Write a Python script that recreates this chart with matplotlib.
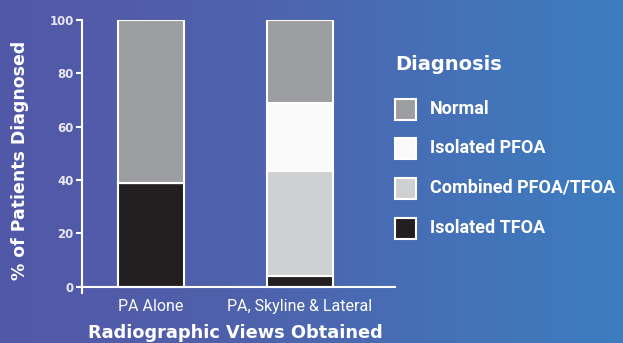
import numpy as np
import matplotlib.pyplot as plt
from matplotlib.colors import LinearSegmentedColormap
from matplotlib.patches import Rectangle

categories = ['PA Alone', 'PA, Skyline & Lateral']
diagnoses = ['Isolated TFOA', 'Combined PFOA/TFOA', 'Isolated PFOA', 'Normal']
values = {
    'Isolated TFOA': [39, 4],
    'Combined PFOA/TFOA': [0, 39.5],
    'Isolated PFOA': [0, 25.5],
    'Normal': [61, 31],
}
colors = {
    'Isolated TFOA': '#231f20',
    'Combined PFOA/TFOA': '#cfd0d2',
    'Isolated PFOA': '#fafafa',
    'Normal': '#9d9ea2',
}
legend_order = ['Normal', 'Isolated PFOA', 'Combined PFOA/TFOA', 'Isolated TFOA']

narrow = ['Roboto', 'DejaVu Sans']
wide = ['DejaVu Sans']

fig = plt.figure(figsize=(6.23, 3.43), dpi=100)

# background gradient
bg = fig.add_axes([0, 0, 1, 1])
grad = np.linspace(0, 1, 256).reshape(1, -1)
cmap = LinearSegmentedColormap.from_list('bg', [(0, '#5358a8'), (0.35, '#5060ab'), (1, '#3d7dc0')])
bg.imshow(grad, aspect='auto', cmap=cmap, extent=[0, 1, 0, 1])
bg.axis('off')

ax = fig.add_axes([82 / 623, 1 - 293 / 343, (395 - 82) / 623, (293 - 20) / 343])
ax.patch.set_alpha(0)

x = np.arange(len(categories))
bottom = np.zeros(len(categories))
for d in diagnoses:
    v = np.array(values[d])
    ax.bar(x, v, 0.44, bottom=bottom, color=colors[d], edgecolor='white', linewidth=1.5)
    bottom += v

ax.set_xlim(-0.463, 1.638)
ax.set_ylim(-2.3, 100)
ax.spines['top'].set_visible(False)
ax.spines['right'].set_visible(False)
ax.spines['bottom'].set_position(('data', 0))
for s in ['left', 'bottom']:
    ax.spines[s].set_color('white')
    ax.spines[s].set_linewidth(1.5)

ax.set_yticks([0, 20, 40, 60, 80, 100])
ax.tick_params(axis='y', colors='white', length=4, width=1.5, pad=2)
for lab in ax.get_yticklabels():
    lab.set_color('#e8e8f2')
    lab.set_fontweight('bold')
    lab.set_fontsize(8.5)
    lab.set_family(wide)

ax.set_xticks(x)
ax.set_xticklabels(categories)
ax.tick_params(axis='x', length=0, pad=9)
for lab in ax.get_xticklabels():
    lab.set_color('white')
    lab.set_fontsize(11.5)
    lab.set_family(narrow)

fig.text(88 / 623, 1 - 333 / 343, 'Radiographic Views Obtained', ha='left', va='center',
         color='white', fontsize=12.8, fontweight='bold', family=wide)
fig.text(20 / 623, 1 - 160 / 343, '% of Patients Diagnosed', ha='center', va='center', rotation=90,
         color='white', fontsize=12.5, fontweight='bold', family=wide)

# legend
fig.text(395 / 623, 1 - 64 / 343, 'Diagnosis', ha='left', va='center',
         color='white', fontsize=14, fontweight='bold', family=wide)
rows = [109, 148, 188, 228]
for d, yy in zip(legend_order, rows):
    fig.patches.append(Rectangle((395 / 623, 1 - (yy + 11) / 343), 21 / 623, 21 / 343,
                                 transform=fig.transFigure, facecolor=colors[d],
                                 edgecolor='white', linewidth=1.5))
    fig.text(430 / 623, 1 - yy / 343, d, ha='left', va='center', color='white',
             fontsize=13, fontweight='bold', family=narrow)

fig.savefig('out.png', dpi=100)
